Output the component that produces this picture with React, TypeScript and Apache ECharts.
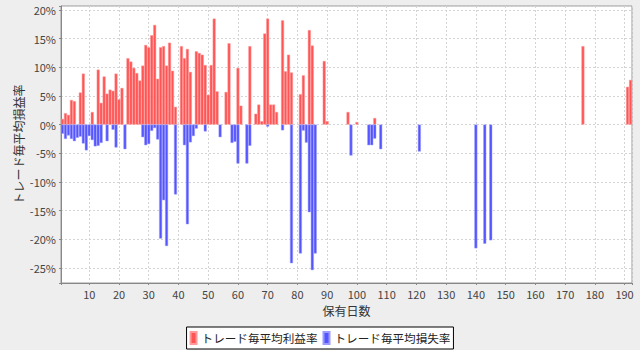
import React, { useEffect, useRef } from "react";
import * as echarts from "echarts";

const seriesNames = ["トレード毎平均利益率", "トレード毎平均損失率"];
const yAxisName = "トレード毎平均損益率";
const xAxisName = "保有日数";

const profitDays = [1, 2, 3, 4, 5, 7, 8, 11, 13, 14, 15, 16, 17, 18, 19, 20, 21, 23, 24, 25, 26, 27, 28, 29, 30, 31, 32, 33, 34, 35, 36, 37, 38, 39, 41, 42, 43, 44, 46, 47, 48, 49, 50, 51, 52, 53, 56, 57, 60, 61, 64, 66, 67, 68, 69, 70, 71, 72, 73, 75, 76, 77, 78, 81, 82, 84, 85, 89, 90, 97, 100, 106, 176, 191, 192];
const profitValues = [1.0, 2.0, 1.7, 4.3, 4.1, 5.6, 8.9, 2.2, 9.6, 3.8, 8.4, 5.4, 6.1, 5.9, 8.9, 4.4, 6.4, 11.6, 11.0, 9.9, 9.0, 7.7, 10.3, 13.9, 13.5, 15.6, 17.4, 8.0, 13.5, 13.7, 10.3, 14.3, 9.4, 3.1, 13.7, 11.6, 13.2, 9.2, 12.8, 12.5, 12.2, 10.4, 5.2, 10.4, 18.5, 5.8, 5.7, 14.2, 9.9, 3.3, 13.7, 1.9, 3.5, 0.6, 15.9, 18.5, 3.5, 3.5, 2.2, 18.2, 9.3, 12.2, 9.1, 5.3, 8.6, 16.5, 13.8, 11.1, 0.6, 2.2, 0.45, 1.15, 13.7, 6.6, 7.8];

const lossDays = [1, 2, 3, 4, 5, 6, 7, 8, 9, 10, 11, 12, 13, 14, 16, 18, 19, 22, 28, 29, 30, 31, 32, 33, 34, 35, 36, 39, 42, 43, 44, 45, 46, 49, 54, 58, 59, 60, 63, 64, 70, 75, 78, 81, 82, 83, 84, 85, 86, 98, 104, 105, 106, 108, 121, 140, 143, 145];
const lossValues = [-1.6, -2.5, -1.9, -2.5, -2.9, -2.3, -2.1, -3.3, -4.5, -2.0, -2.7, -3.8, -3.7, -3.2, -2.9, -0.9, -4.0, -4.3, -2.2, -3.6, -3.4, -1.1, -0.6, -2.6, -19.9, -13.2, -21.2, -12.2, -3.6, -17.4, -3.1, -2.0, -0.7, -1.2, -2.2, -3.2, -3.0, -6.8, -6.8, -3.7, -0.35, -1.0, -24.2, -22.5, -1.05, -3.15, -15.3, -25.4, -22.5, -5.4, -3.6, -3.6, -2.45, -4.3, -4.7, -21.6, -20.8, -20.2];

const X_MIN = 0.5;
const X_MAX = 192.5;
const Y_MIN = -27.65;
const Y_MAX = 20.7;

const FONT = "'Noto Sans CJK JP', 'DejaVu Sans', sans-serif";

export default function App() {
  const ref = useRef<HTMLDivElement>(null);
  useEffect(() => {
    const chart = echarts.init(ref.current!, null, { renderer: "svg" });
    const gridLeft = 61;
    const gridRight = 8;
    const plotW = 640 - gridLeft - gridRight;
    const barW = plotW / (X_MAX - X_MIN);
    const split = { show: true, lineStyle: { color: "#D4D4D4", type: [2, 2] as any, width: 1 } };
    chart.setOption({
      animation: false,
      backgroundColor: "#EEEEEE",
      textStyle: { fontFamily: FONT },
      grid: {
        left: gridLeft,
        right: gridRight,
        top: 6,
        bottom: 67,
        show: true,
        backgroundColor: "#FFFFFF",
        borderColor: "#999999",
        borderWidth: 1,
      },
      legend: {
        left: "center",
        bottom: 1,
        icon: "rect",
        itemWidth: 6,
        itemHeight: 12,
        itemGap: 5,
        padding: [4, 3],
        borderColor: "#000000",
        borderWidth: 1,
        backgroundColor: "#FFFFFF",
        textStyle: { fontSize: 11.6, color: "#222", fontFamily: FONT },
        data: seriesNames,
      },
      xAxis: {
        type: "value",
        min: X_MIN,
        max: X_MAX,
        splitNumber: 19,
        name: xAxisName,
        nameLocation: "middle",
        nameGap: 21,
        nameMoveOverlap: false,
        nameTextStyle: { fontSize: 12, color: "#333", fontFamily: FONT },
        axisLine: { show: true, onZero: false, lineStyle: { color: "#888" } },
        axisTick: { show: true, length: 2, lineStyle: { color: "#888" } },
        axisLabel: {
          margin: 5,
          fontSize: 11,
          color: "#444",
          formatter: (v: number) => (Math.abs(v % 10) < 1e-6 && v > 0 ? String(v) : ""),
        },
        splitLine: split,
      },
      yAxis: {
        type: "value",
        min: Y_MIN,
        max: Y_MAX,
        splitNumber: 10,
        name: yAxisName,
        nameLocation: "middle",
        nameGap: 37,
        nameMoveOverlap: false,
        nameRotate: 90,
        nameTextStyle: { fontSize: 12, color: "#333", fontFamily: FONT },
        axisLine: { show: true, lineStyle: { color: "#888" } },
        axisTick: { show: true, length: 2, lineStyle: { color: "#888" } },
        axisLabel: {
          margin: 5,
          fontSize: 11,
          color: "#444",
          formatter: (v: number) => (Math.abs(v % 5) < 1e-6 ? Math.round(v) + "%" : ""),
        },
        splitLine: split,
      },
      series: [
        {
          type: "bar",
          name: seriesNames[0],
          data: profitDays.map((d, i) => [d, profitValues[i]]),
          barWidth: barW,
          barGap: "-100%",
          itemStyle: { color: "#FF5555", borderColor: "#FF9A9A", borderWidth: 0.5 },
        },
        {
          type: "bar",
          name: seriesNames[1],
          data: lossDays.map((d, i) => [d, lossValues[i]]),
          barWidth: barW,
          barGap: "-100%",
          itemStyle: { color: "#5555FF", borderColor: "#9A9AFF", borderWidth: 0.5 },
        },
      ],
    });
    return () => chart.dispose();
  }, []);
  return (
    <div
      ref={ref}
      style={{ position: "fixed", left: 0, top: 0, width: 640, height: 350, background: "#EEEEEE" }}
    />
  );
}
